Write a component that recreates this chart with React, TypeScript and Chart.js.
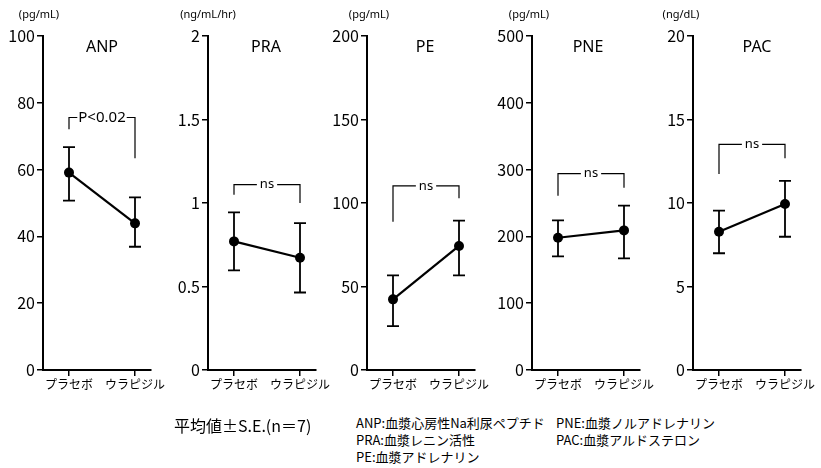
import React, { useEffect, useRef } from "react";
import { Chart, registerables } from "chart.js";

Chart.register(...registerables);

// ---- data ----
const categories = ["プラセボ", "ウラピジル"];
const panelNames = ["ANP", "PRA", "PE", "PNE", "PAC"];
const unitLabels = ["(pg/mL)", "(ng/mL/hr)", "(pg/mL)", "(pg/mL)", "(ng/dL)"];
const yMax = [100, 2, 200, 500, 20];
const yStep = [20, 0.5, 50, 100, 5];
const meanPlacebo = [59.1, 0.77, 42.3, 198, 8.28];
const meanUrapidil = [43.9, 0.672, 74.3, 209, 9.94];
const placeboLow = [50.7, 0.596, 26.3, 170, 6.99];
const placeboHigh = [66.7, 0.944, 56.7, 224, 9.54];
const urapidilLow = [36.9, 0.464, 56.7, 167, 7.98];
const urapidilHigh = [51.7, 0.88, 89.4, 246, 11.32];
const sigLabels = ["P<0.02", "ns", "ns", "ns", "ns"];
const bracketTop = [75.6, 1.11, 110.2, 294, 13.51];
const bracketLeftEnd = [72.1, 1.05, 88.8, 261, 11.74];
const bracketRightEnd = [63.4, 1.0, 102.8, 273, 12.68];

const footerLeft = "平均値±S.E.(n＝7)";
const legendCol1 = ["ANP:血漿心房性Na利尿ペプチド", "PRA:血漿レニン活性", "PE:血漿アドレナリン"];
const legendCol2 = ["PNE:血漿ノルアドレナリン", "PAC:血漿アルドステロン"];

// ---- layout ----
const axisX = [43, 208, 367, 532, 693];
const titleOffset = [59, 58, 58, 56, 64];
const unitOffset = [-4, 0, 2, -3, -12];
const AXIS_W = 43;
const PLOT_W = 108;
const RIGHT_PAD = 30;
const CANVAS_W = AXIS_W + PLOT_W + RIGHT_PAD;
const CANVAS_H = 400;
const X_MIN = 1 - 26 / 66;
const X_MAX = 2 + 16 / 66;

const CJK = '"Noto Sans CJK JP", "Noto Sans", sans-serif';
const NUM = '"Liberation Sans Narrow", "Noto Sans CJK JP", sans-serif';

function makeOverlay(i: number) {
  return {
    id: "overlay" + i,
    beforeDatasetsDraw(chart: any) {
      const ctx = chart.ctx;
      const xs = chart.scales.x;
      const ys = chart.scales.y;
      ctx.save();
      ctx.strokeStyle = "#000";
      ctx.lineWidth = 1.8;
      const bars = [
        [1, placeboLow[i], placeboHigh[i]],
        [2, urapidilLow[i], urapidilHigh[i]],
      ];
      for (const [x, lo, hi] of bars) {
        const px = xs.getPixelForValue(x);
        const pl = ys.getPixelForValue(lo);
        const ph = ys.getPixelForValue(hi);
        ctx.beginPath();
        ctx.moveTo(px, pl);
        ctx.lineTo(px, ph);
        ctx.moveTo(px - 6, pl);
        ctx.lineTo(px + 6, pl);
        ctx.moveTo(px - 6, ph);
        ctx.lineTo(px + 6, ph);
        ctx.stroke();
      }
      ctx.restore();
    },
    afterDraw(chart: any) {
      const ctx = chart.ctx;
      const xs = chart.scales.x;
      const ys = chart.scales.y;
      const area = chart.chartArea;
      ctx.save();
      // title
      ctx.fillStyle = "#000";
      ctx.font = '16px "Noto Sans", sans-serif';
      ctx.textAlign = "center";
      ctx.textBaseline = "middle";
      ctx.fillText(panelNames[i], area.left + titleOffset[i], 47);
      // unit
      ctx.font = '11px "Noto Sans", sans-serif';
      ctx.fillText(unitLabels[i], area.left + unitOffset[i], 15);
      // bracket
      const x1 = xs.getPixelForValue(1);
      const x2 = xs.getPixelForValue(2);
      const yt = ys.getPixelForValue(bracketTop[i]);
      const yl = ys.getPixelForValue(bracketLeftEnd[i]);
      const yr = ys.getPixelForValue(bracketRightEnd[i]);
      const label = sigLabels[i];
      ctx.font = label === "ns" ? '13px "Noto Sans", sans-serif' : '15px "Noto Sans", sans-serif';
      const tw = ctx.measureText(label).width;
      const cx = (x1 + x2) / 2;
      const gap = label === "ns" ? 3 : 1;
      ctx.strokeStyle = "#000";
      ctx.lineWidth = 1.2;
      ctx.beginPath();
      ctx.moveTo(x1, yl);
      ctx.lineTo(x1, yt);
      ctx.lineTo(cx - tw / 2 - gap, yt);
      ctx.moveTo(cx + tw / 2 + gap, yt);
      ctx.lineTo(x2, yt);
      ctx.lineTo(x2, yr);
      ctx.stroke();
      ctx.fillText(label, cx, yt);
      ctx.restore();
    },
  };
}

function Panel({ i }: { i: number }) {
  const ref = useRef<HTMLCanvasElement>(null);
  useEffect(() => {
    const axisCommon = {
      grid: {
        drawOnChartArea: false,
        drawTicks: true,
        tickLength: 6,
        color: "#000",
        lineWidth: 1.5,
      },
      border: { display: true, color: "#000", width: 2 },
    };
    const chart = new Chart(ref.current as HTMLCanvasElement, {
      type: "line",
      data: {
        datasets: [
          {
            data: [
              { x: 1, y: meanPlacebo[i] },
              { x: 2, y: meanUrapidil[i] },
            ],
            borderColor: "#000",
            backgroundColor: "#000",
            borderWidth: 2.2,
            pointRadius: 5,
            pointBackgroundColor: "#000",
            pointBorderWidth: 0,
          },
        ],
      },
      options: {
        responsive: false,
        animation: false,
        layout: { padding: { top: 36, right: RIGHT_PAD, left: 0, bottom: 0 } },
        plugins: {
          legend: { display: false },
          tooltip: { enabled: false },
        },
        scales: {
          x: {
            type: "linear",
            min: X_MIN,
            max: X_MAX,
            afterBuildTicks: (s: any) => {
              s.ticks = [{ value: 1 }, { value: 2 }];
            },
            afterFit: (s: any) => {
              s.height = CANVAS_H - 370;
            },
            ticks: {
              callback: (v: any) => categories[Math.round(v) - 1],
              color: "#000",
              font: { family: CJK, size: 12 },
              padding: 1,
              maxRotation: 0,
              autoSkip: false,
            },
            ...axisCommon,
          },
          y: {
            min: 0,
            max: yMax[i],
            ticks: {
              stepSize: yStep[i],
              callback: (v: any) => String(Math.round(v * 100) / 100),
              color: "#000",
              font: { family: NUM, size: 16 },
              padding: 2,
            },
            afterFit: (s: any) => {
              s.width = AXIS_W;
            },
            ...axisCommon,
          },
        },
      } as any,
      plugins: [makeOverlay(i)],
    });
    return () => chart.destroy();
  }, [i]);
  return (
    <canvas
      ref={ref}
      width={CANVAS_W}
      height={CANVAS_H}
      style={{ position: "absolute", left: axisX[i] - AXIS_W, top: 0 }}
    />
  );
}

export default function App() {
  const textStyle: React.CSSProperties = {
    position: "absolute",
    fontFamily: CJK,
    color: "#000",
    whiteSpace: "nowrap",
    lineHeight: 1,
  };
  return (
    <div
      style={{
        position: "absolute",
        left: 0,
        top: 0,
        width: 821,
        height: 468,
        background: "#fff",
        overflow: "hidden",
      }}
    >
      {panelNames.map((_, i) => (
        <Panel key={i} i={i} />
      ))}
      <div style={{ ...textStyle, left: 174, top: 417, fontSize: 16 }}>{footerLeft}</div>
      {legendCol1.map((t, k) => (
        <div key={"a" + k} style={{ ...textStyle, left: 356, top: 416 + k * 17, fontSize: 13 }}>
          {t}
        </div>
      ))}
      {legendCol2.map((t, k) => (
        <div key={"b" + k} style={{ ...textStyle, left: 556, top: 416 + k * 17, fontSize: 13 }}>
          {t}
        </div>
      ))}
    </div>
  );
}
